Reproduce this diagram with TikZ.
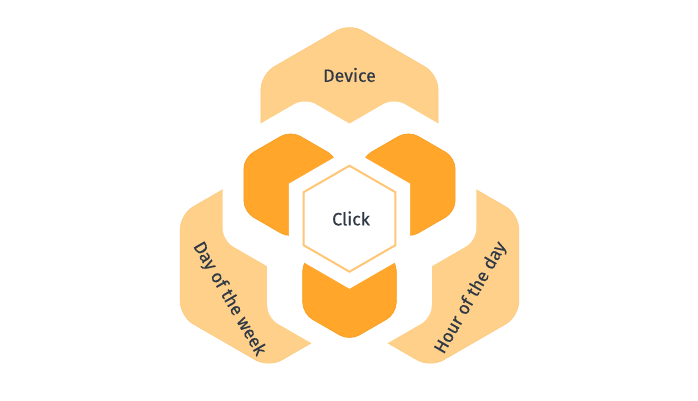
\documentclass[tikz,border=0pt]{standalone}
\usepackage{fontspec}
\setmainfont{Fira Sans}
\newfontfamily\lblfont{Fira Sans}[FakeBold=0.4]
\usetikzlibrary{calc}
\definecolor{lightfill}{HTML}{FFD08A}
\definecolor{lightedge}{HTML}{FDCA80}
\definecolor{darkfill}{HTML}{FFA62B}
\definecolor{darkedge}{HTML}{F79D1E}
\definecolor{hexline}{HTML}{FFC676}
\definecolor{txt}{HTML}{2F3946}
\newcommand{\hexpath}[3]{\path[#1, shift={(#2)}] (0:{#3*0.866}) -- (30:#3) -- (90:#3) -- (150:#3) -- (210:#3) -- (270:#3) -- (330:#3) -- cycle;}
\tikzset{
  lightpiece/.style={fill=lightfill, draw=lightedge, line width=0.6pt, rounded corners=15pt},
  whitecut/.style={fill=white, rounded corners=12pt},
  darkpiece/.style={fill=darkfill, draw=darkedge, line width=0.6pt, rounded corners=11pt},
  innercut/.style={fill=white},
  centerhex/.style={fill=white, draw=hexline, line width=2pt},
  lbl/.style={text=txt, font=\lblfont\fontsize{17.8}{20}\selectfont, inner sep=0pt}
}
\begin{document}
\begin{tikzpicture}[x=1pt,y=1pt]
\fill[white] (0,0) rectangle (698,-400);
\path[use as bounding box] (0,0) rectangle (698,-400);
\coordinate (C) at (349.5,-218.7);
% light outer hexagons
\coordinate (L1) at ($(C)+(90:93.3)$);
\coordinate (L2) at ($(C)+(210:93.3)$);
\coordinate (L3) at ($(C)+(330:93.3)$);
\hexpath{lightpiece}{L1}{102.2}
\hexpath{lightpiece}{L2}{102.2}
\hexpath{lightpiece}{L3}{102.2}
% white band around the inner cluster
\coordinate (W1) at ($(C)+(150:51.4)$);
\coordinate (W2) at ($(C)+(30:51.4)$);
\coordinate (W3) at ($(C)+(270:51.4)$);
\hexpath{whitecut}{W1}{95}
\hexpath{whitecut}{W2}{95}
\hexpath{whitecut}{W3}{95}
% dark inner hexagons
\coordinate (D1) at ($(C)+(150:68)$);
\coordinate (D2) at ($(C)+(30:68)$);
\coordinate (D3) at ($(C)+(270:68)$);
\hexpath{darkpiece}{D1}{54}
\hexpath{darkpiece}{D2}{54}
\hexpath{darkpiece}{D3}{54}
% white gap round the centre
\hexpath{innercut}{C}{70}
% centre hexagon
\hexpath{centerhex}{C}{53}
% labels
\node[lbl] (device) at (349.5,-75) {Device};
\node[lbl] (click) at (351,-218.5) {Click};
\node[lbl, rotate=-60] (dow) at (229,-299) {Day of the week};
\node[lbl, rotate=60] (hod) at (471,-298) {Hour of the day};
\end{tikzpicture}
\end{document}
